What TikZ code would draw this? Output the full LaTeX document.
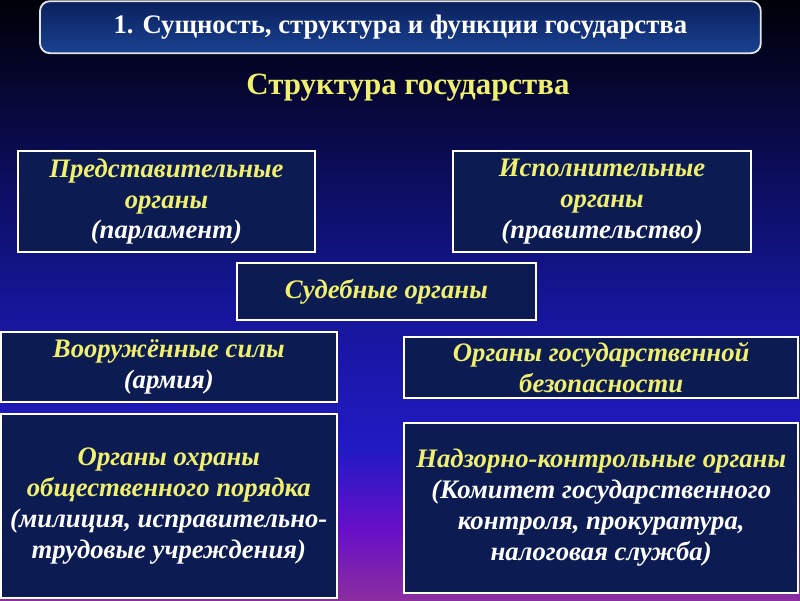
\documentclass[tikz,border=0pt]{standalone}
\usepackage{fontspec}
\setmainfont{Liberation Serif}
\usepackage{tikz}
\usepackage{xcolor}
\definecolor{boxnavy}{RGB}{12,28,82}
\definecolor{textyellow}{RGB}{240,240,110}
\definecolor{bgtop}{RGB}{0,0,8}
\definecolor{bgmid}{RGB}{20,22,150}
\definecolor{bgblue}{RGB}{34,26,196}
\definecolor{bgviolet}{RGB}{104,16,200}
\definecolor{bgpink}{RGB}{140,46,160}
\definecolor{headtop}{RGB}{10,32,92}
\definecolor{headbot}{RGB}{26,66,146}

\begin{document}
\begin{tikzpicture}[
		organ/.style={draw=white, line width=1.3pt, fill=boxnavy, align=center,
			font=\fontsize{19}{22}\selectfont\bfseries\itshape, text=textyellow, inner sep=2pt}
	]
		% background
		\useasboundingbox (0,0) rectangle (20,15);
		\shade[top color=bgtop, bottom color=bgmid] (0,7.5) rectangle (20,15);
		\shade[top color=bgmid, bottom color=bgblue] (0,3.75) rectangle (20,7.5);
		\shade[top color=bgblue, bottom color=bgviolet] (0,1.75) rectangle (20,3.75);
		\shade[top color=bgviolet, bottom color=bgpink] (0,0) rectangle (20,1.75);

		% heading
		\node[draw=white!80!gray, line width=1.3pt, rounded corners=7pt, top color=headtop, bottom color=headbot,
			minimum width=18.02cm, minimum height=1.3cm, text=white,
			font=\fontsize{19}{22}\selectfont\bfseries] (head) at (10.01,14.32)
			{1. Сущность, структура и функции государства};
		\node[text=textyellow, font=\fontsize{22}{26}\selectfont\bfseries] (title) at (10.2,12.8)
			{Структура государства};

		% boxes
		\node[organ, minimum width=7.425cm, minimum height=2.525cm] (parl) at (4.16,9.96)
			{Представительные\\органы\\{\color{white}(парламент)}};
		\node[organ, minimum width=7.45cm, minimum height=2.525cm] (govt) at (15.05,9.96)
			{Исполнительные\\органы\\{\color{white}(правительство)}};
		\node[organ, minimum width=7.475cm, minimum height=1.425cm] (court) at (9.66,7.71)
			{Судебные органы};
		\node[organ, minimum width=8.4cm, minimum height=1.75cm] (army) at (4.22,5.83)
			{Вооружённые силы\\{\color{white}(армия)}};
		\node[organ, minimum width=9.85cm, minimum height=1.525cm] (secur) at (15.03,5.81)
			{Органы государственной\\безопасности};
		\node[organ, minimum width=8.4cm, minimum height=4.6cm] (police) at (4.22,2.35)
			{Органы охраны\\общественного порядка\\{\color{white}(милиция, исправительно-}\\{\color{white}трудовые учреждения)}};
		\node[organ, minimum width=9.85cm, minimum height=4.25cm] (control) at (15.03,2.3)
			{Надзорно-контрольные органы\\{\color{white}(Комитет государственного}\\{\color{white}контроля, прокуратура,}\\{\color{white}налоговая служба)}};
	\end{tikzpicture}
\end{document}
